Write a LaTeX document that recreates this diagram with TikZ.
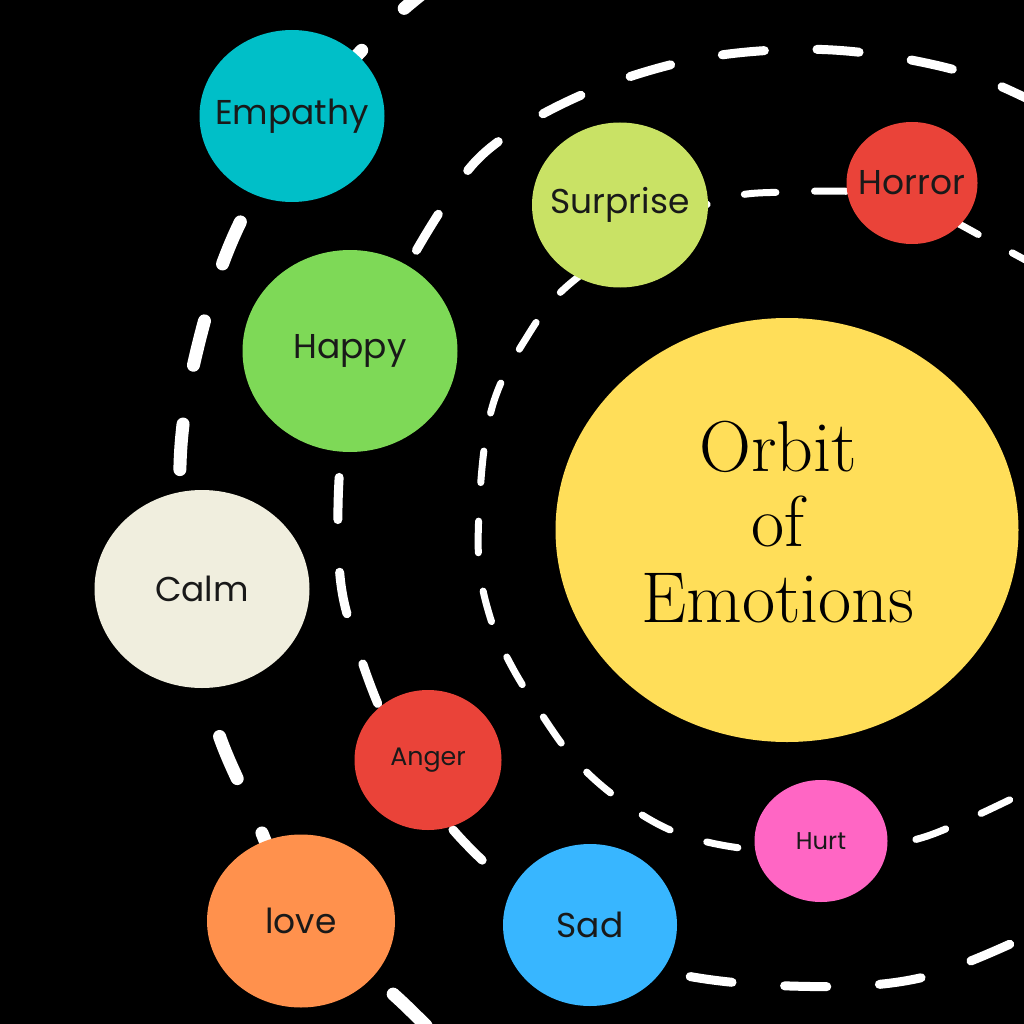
\documentclass[tikz,border=0pt]{standalone}
\usepackage{fontspec}
\newfontfamily\planetfont{Poppins}
\usetikzlibrary{shapes.geometric}
\definecolor{EmpathyColor}{RGB}{0,191,200}
\definecolor{HappyColor}{RGB}{126,217,87}
\definecolor{CalmColor}{RGB}{240,238,222}
\definecolor{AngerColor}{RGB}{234,67,57}
\definecolor{LoveColor}{RGB}{255,145,77}
\definecolor{SadColor}{RGB}{56,182,255}
\definecolor{SurpriseColor}{RGB}{201,226,101}
\definecolor{HurtColor}{RGB}{255,102,196}
\definecolor{SunColor}{RGB}{255,222,89}

\begin{document}
\begin{tikzpicture}[
    x=0.1mm, y=-0.1mm,
    planet/.style={ellipse, inner sep=0pt},
    tag/.style={inner sep=0pt, text=black!90, font=\planetfont\fontsize{9.8}{12}\selectfont},
    smalltag/.style={tag, font=\planetfont\fontsize{7.2}{9}\selectfont},
    tinytag/.style={tag, font=\planetfont\fontsize{6.9}{8}\selectfont},
    orbit/.style={draw=white, line cap=round},
    outerorbit/.style={orbit, line width=1.3mm, dash pattern=on 13pt off 17pt},
    midorbit/.style={orbit, line width=0.9mm, dash pattern=on 12pt off 15pt},
    innerorbit/.style={orbit, line width=0.7mm, dash pattern=on 9pt off 11pt},
]

% Background
\fill[black] (0,0) rectangle (1024,1024);
\useasboundingbox (0,0) rectangle (1024,1024);
\clip (0,0) rectangle (1024,1024);

% Outer orbit
\draw[outerorbit] plot[smooth, tension=0.6] coordinates {(440,-20) (383,28) (305,118) (237,229) (197,350) (180,465) (190,590) (213,716) (253,812) (300,905) (405,1005) (440,1040)};

% Middle orbit
\draw[midorbit] plot[smooth, tension=0.6] coordinates {(1040,105) (966,73) (866,53) (775,50) (678,63) (577,97) (490,148) (443,207) (390,300) (350,400) (339,480) (340,576) (355,640) (385,720) (430,800) (482,860) (560,925) (660,970) (790,986) (920,978) (1040,930)};

% Inner orbit
\draw[innerorbit] plot[smooth, tension=0.6] coordinates {(1040,268) (992,242) (930,210) (870,193) (787,192) (723,199) (640,235) (590,268) (553,300) (525,340) (500,385) (487,430) (480,494) (479,564) (491,620) (511,665) (540,712) (575,760) (620,800) (675,832) (740,848) (820,852) (905,842) (962,822) (1040,785)};

% Centre
\node[planet, fill=SunColor, minimum width=46.3mm, minimum height=42.4mm] (sun) at (787,530) {};
\node[font=\fontsize{20.5}{21.5}\selectfont, align=center] (title) at (778,522) {Orbit\\of\\Emotions};

% Planets
\node[planet, fill=EmpathyColor, minimum width=18.5mm, minimum height=17.2mm, label={[tag]center:Empathy}] (empathy) at (292,116) {};
\node[planet, fill=HappyColor, minimum width=21.5mm, minimum height=20.2mm, label={[tag]center:Happy}] (happy) at (350,351) {};
\node[planet, fill=CalmColor, minimum width=21.5mm, minimum height=19.8mm, label={[tag]center:Calm}] (calm) at (202,589) {};
\node[planet, fill=AngerColor, minimum width=14.7mm, minimum height=14mm, label={[smalltag]center:Anger}] (anger) at (428,760) {};
\node[planet, fill=LoveColor, minimum width=18.8mm, minimum height=17.3mm, label={[tag]center:love}] (love) at (301,921) {};
\node[planet, fill=SadColor, minimum width=17.4mm, minimum height=16.2mm, label={[tag]center:Sad}] (sad) at (590,925) {};
\node[planet, fill=SurpriseColor, minimum width=17.6mm, minimum height=16.5mm, label={[tag]center:Surprise}] (surprise) at (620,205) {};
\node[planet, fill=AngerColor, minimum width=13.1mm, minimum height=12.2mm, label={[tag]center:Horror}] (horror) at (912,183) {};
\node[planet, fill=HurtColor, minimum width=13.3mm, minimum height=12.2mm, label={[tinytag]center:Hurt}] (hurt) at (821,841) {};

\end{tikzpicture}
\end{document}
